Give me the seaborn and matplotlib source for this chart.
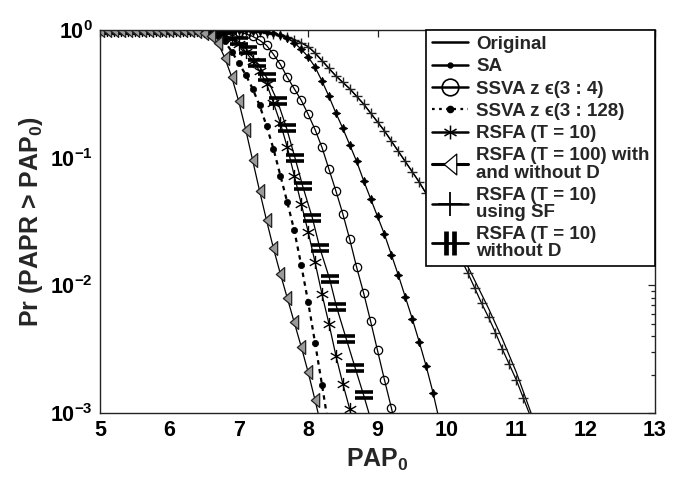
import numpy as np
import pandas as pd
import matplotlib
matplotlib.use("Agg")
import matplotlib.pyplot as plt
import seaborn as sns
from matplotlib.path import Path
from matplotlib.lines import Line2D
from matplotlib.ticker import FixedLocator, FuncFormatter, NullFormatter

# ---------------- data ----------------
pap0_grid = [5.0, 5.1, 5.2, 5.3, 5.4, 5.5, 5.6, 5.7, 5.8, 5.9,
             6.0, 6.1, 6.2, 6.3, 6.4, 6.5, 6.6, 6.7, 6.8, 6.9,
             7.0, 7.1, 7.2, 7.3, 7.4, 7.5, 7.6, 7.7, 7.8, 7.9,
             8.0, 8.1, 8.2, 8.3, 8.4, 8.5, 8.6, 8.7, 8.8, 8.9,
             9.0, 9.1, 9.2, 9.3, 9.4, 9.5, 9.6, 9.7, 9.8, 9.9,
             10.0, 10.1, 10.2, 10.3, 10.4, 10.5, 10.6, 10.7, 10.8, 10.9,
             11.0, 11.1, 11.2, 11.3, 11.4]

# log10 of Pr(PAPR > PAP0), aligned with pap0_grid from 5.0
original_log = [0.0] * 19 + [
    -0.001, -0.003, -0.005, -0.008, -0.013, -0.02, -0.03, -0.04, -0.055, -0.075,
    -0.10, -0.13, -0.18, -0.24, -0.30, -0.36, -0.41, -0.46, -0.52, -0.58,
    -0.65, -0.72, -0.79, -0.87, -0.95, -1.03, -1.11, -1.19, -1.28, -1.37,
    -1.45, -1.54, -1.64, -1.74, -1.85, -1.96, -2.07, -2.18, -2.30, -2.42,
    -2.55, -2.68, -2.83, -2.98, -3.14]
sa_log = [0.0] * 22 + [
    -0.004, -0.008, -0.015, -0.025, -0.04, -0.06, -0.10, -0.15, -0.21, -0.29,
    -0.40, -0.52, -0.65, -0.77, -0.90, -1.03, -1.18, -1.32, -1.46, -1.60,
    -1.76, -1.92, -2.09, -2.26, -2.44, -2.63, -2.84, -3.08]
ssva4_log = [0.0] * 18 + [
    -0.003, -0.007, -0.015, -0.03, -0.05, -0.08, -0.12, -0.19, -0.27, -0.37,
    -0.46, -0.55, -0.66, -0.78, -0.92, -1.09, -1.26, -1.44, -1.64, -1.86,
    -2.06, -2.28, -2.51, -2.74, -2.96, -3.2]
ssva128_log = [0.0] * 14 + [
    -0.004, -0.01, -0.025, -0.05, -0.09, -0.17, -0.26, -0.35, -0.46, -0.59,
    -0.75, -0.93, -1.14, -1.35, -1.57, -1.84, -2.13, -2.45, -2.78, -3.12]
rsfa10_log = [0.0] * 15 + [
    -0.004, -0.01, -0.02, -0.04, -0.07, -0.11, -0.17, -0.24, -0.32, -0.42,
    -0.57, -0.73, -0.92, -1.14, -1.36, -1.58, -1.82, -2.07, -2.30, -2.55,
    -2.77, -2.97, -3.2]
rsfa100_log = [0.0] * 13 + [
    -0.003, -0.008, -0.02, -0.05, -0.10, -0.22, -0.37, -0.56, -0.78, -1.02,
    -1.26, -1.49, -1.71, -1.91, -2.10, -2.29, -2.48, -2.68, -2.90, -3.13]
rsfa10_sf_log = [0.0] * 19 + [
    -0.001, -0.003, -0.005, -0.008, -0.013, -0.02, -0.03, -0.04, -0.055, -0.075,
    -0.10, -0.13, -0.18, -0.24, -0.30, -0.36, -0.41, -0.46, -0.52, -0.58,
    -0.65, -0.72, -0.79, -0.87, -0.95, -1.03, -1.11, -1.19, -1.28, -1.37,
    -1.47, -1.57, -1.68, -1.79, -1.90, -2.02, -2.14, -2.25, -2.37, -2.50,
    -2.62, -2.74, -2.88, -3.02, -3.17]
rsfa10_nod_x = [5.0, 5.2, 5.4, 5.6, 5.8, 6.0, 6.2, 6.4, 6.55, 6.7, 6.85, 7.0,
                7.13, 7.27, 7.40, 7.56, 7.69, 7.81, 7.92, 8.06, 8.17, 8.31,
                8.41, 8.55, 8.68, 8.80, 8.93]
rsfa10_nod_log = [0.0, 0.0, 0.0, 0.0, 0.0, 0.0, 0.0, -0.003, -0.008, -0.02,
                  -0.05, -0.09, -0.16, -0.26, -0.37, -0.56, -0.77, -1.00, -1.22,
                  -1.47, -1.71, -1.95, -2.17, -2.42, -2.65, -2.86, -3.1]

x_ticks = [5, 6, 7, 8, 9, 10, 11, 12, 13]
labels = ["Original", "SA", "SSVA z \u03f5(3 : 4)", "SSVA z \u03f5(3 : 128)",
          "RSFA (T = 10)", "RSFA (T = 100) with\nand without D",
          "RSFA (T = 10)\nusing SF", "RSFA (T = 10)\nwithout D"]

# ---------------- style ----------------
sns.set_style("white")
plt.rcParams["font.family"] = ["Liberation Sans", "DejaVu Sans"]
plt.rcParams["font.weight"] = "bold"
plt.rcParams["mathtext.fontset"] = "custom"
plt.rcParams["mathtext.rm"] = "Liberation Sans:bold"
plt.rcParams["mathtext.bf"] = "Liberation Sans:bold"
plt.rcParams["mathtext.it"] = "Liberation Sans:bold:italic"
plt.rcParams["mathtext.default"] = "bf"

tri_marker = Path([(-0.6, 0.0), (0.6, 1.0), (0.6, -1.0), (-0.6, 0.0)],
                  [Path.MOVETO, Path.LINETO, Path.LINETO, Path.CLOSEPOLY])
eq_marker = Path([(-1, 0.35), (1, 0.35), (-1, -0.35), (1, -0.35)],
                 [Path.MOVETO, Path.LINETO, Path.MOVETO, Path.LINETO])
bars_marker = Path([(-0.3, -1), (-0.3, 1), (0.3, -1), (0.3, 1)],
                   [Path.MOVETO, Path.LINETO, Path.MOVETO, Path.LINETO])
ast_marker = Path([(0, -1), (0, 1), (-0.87, -0.5), (0.87, 0.5), (-0.87, 0.5), (0.87, -0.5)],
                  [Path.MOVETO, Path.LINETO, Path.MOVETO, Path.LINETO, Path.MOVETO, Path.LINETO])

fig = plt.figure(figsize=(6.73, 4.79), dpi=100)
ax = fig.add_axes([100 / 673, 1 - 413 / 479, 555 / 673, 383 / 479])
ax.set_yscale("log")


def curve(xs, logs, **kw):
    n = len(logs)
    df = pd.DataFrame({"x": list(xs)[:n], "p": [10.0 ** v for v in logs]})
    sns.lineplot(data=df, x="x", y="p", ax=ax, estimator=None, sort=False,
                 legend=False, color="k", **kw)


styles = {
    "orig": dict(lw=0.9, marker=None),
    "sa": dict(lw=0.9, marker=(4, 1, 0), markersize=6, mfc="k", mec="k", mew=0.6),
    "ssva4": dict(lw=0.9, marker="o", markersize=6, mfc="none", mec="k", mew=0.9),
    "ssva128": dict(lw=1.6, ls=(0, (2, 2)), marker="o", markersize=4.5, mfc="k", mec="k", mew=0.5),
    "rsfa10": dict(lw=0.9, marker=ast_marker, markersize=9.5, mfc="none", mec="k", mew=1.0),
    "rsfa100": dict(lw=0.9, marker=tri_marker, markersize=10, mfc="#9a9a9a", mec="#222222", mew=0.9),
    "sf": dict(lw=0.9, marker="+", markersize=7, mfc="none", mec="#222222", mew=1.0),
    "nod": dict(lw=0.9, marker=eq_marker, markersize=13, mfc="none", mec="k", mew=2.6),
}

curve(pap0_grid, original_log, **styles["orig"])
curve(pap0_grid, rsfa10_sf_log, **styles["sf"])
curve(pap0_grid, sa_log, **styles["sa"])
curve(pap0_grid, ssva4_log, **styles["ssva4"])
curve(rsfa10_nod_x, rsfa10_nod_log, **styles["nod"])
curve(pap0_grid, rsfa10_log, **styles["rsfa10"])
curve(pap0_grid, ssva128_log, **styles["ssva128"])
curve(pap0_grid, rsfa100_log, **styles["rsfa100"])

# ---------------- axes ----------------
ax.set_xlim(5, 13)
ax.set_ylim(1e-3, 1)
ax.xaxis.set_major_locator(FixedLocator(x_ticks))
ax.set_xticklabels([str(t) for t in x_ticks])
ax.yaxis.set_major_locator(FixedLocator([1e-3, 1e-2, 1e-1, 1]))
minor = [m * 10.0 ** e for e in (-3, -2, -1) for m in range(2, 10)]
ax.yaxis.set_minor_locator(FixedLocator(minor))
ax.yaxis.set_minor_formatter(NullFormatter())
ax.yaxis.set_major_formatter(FuncFormatter(lambda v, p: r"$\mathbf{10^{%d}}$" % int(round(np.log10(v)))))
ax.tick_params(which="both", direction="in", top=True, right=True, colors="#222222",
               labelcolor="k", labelsize=15.5, width=0.9)
ax.tick_params(which="major", length=5, pad=5)
ax.tick_params(which="minor", length=3)
for s in ax.spines.values():
    s.set_color("#222222")
    s.set_linewidth(1.0)
for t in ax.get_xticklabels() + ax.get_yticklabels():
    t.set_fontweight("bold")

ax.set_xlabel(r"PAP$_\mathbf{0}$", fontsize=18, fontweight="bold", labelpad=4)
ax.set_ylabel(r"Pr (PAPR > PAP$_\mathbf{0}$)", fontsize=18, fontweight="bold", labelpad=4)

# ---------------- legend ----------------
handles = [
    Line2D([], [], color="k", lw=1.8),
    Line2D([], [], color="k", lw=1.8, marker="o", markersize=3.5, mfc="k", mec="k"),
    Line2D([], [], color="k", lw=1.8, marker="o", markersize=12, mfc="none", mec="k", mew=1.2),
    Line2D([], [], color="k", lw=1.6, ls=(0, (1.2, 2)), marker="o", markersize=4.5, mfc="k", mec="k"),
    Line2D([], [], color="k", lw=1.8, marker=ast_marker, markersize=10, mec="k", mew=1.1),
    Line2D([], [], color="k", lw=2.2, marker=tri_marker, markersize=15, mfc="white", mec="k", mew=0.9),
    Line2D([], [], color="k", lw=1.8, marker="+", markersize=17, mec="k", mew=1.3),
    Line2D([], [], color="k", lw=2.0, marker=bars_marker, markersize=17, mec="k", mew=3.4),
]
leg = ax.legend(handles, labels, loc="upper right", bbox_to_anchor=(1.0, 1.0),
                borderaxespad=0.0, frameon=True, fancybox=False, framealpha=1,
                edgecolor="k", prop=dict(family=["Liberation Sans", "DejaVu Sans"], weight="bold", size=13.5),
                borderpad=0.3, labelspacing=0.28, handlelength=1.9, handletextpad=0.45)
leg.get_frame().set_linewidth(1.2)
for t in leg.get_texts():
    t.set_linespacing(1.0)

fig.savefig("out.png", dpi=100, facecolor="white")
